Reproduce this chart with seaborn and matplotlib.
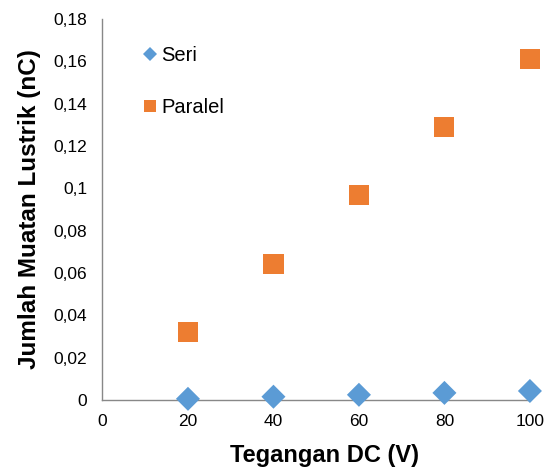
import numpy as np
import pandas as pd
import matplotlib.pyplot as plt
import seaborn as sns

# values
tegangan = [20, 40, 60, 80, 100]
seri = [0.0005, 0.0015, 0.0024, 0.0033, 0.0042]
paralel = [0.0321, 0.0643, 0.0968, 0.1290, 0.1612]
series_names = ['Seri', 'Paralel']
colors = ('#5B9BD5', '#ED7D31')
y_ticks = [0, 0.02, 0.04, 0.06, 0.08, 0.1, 0.12, 0.14, 0.16, 0.18]
y_tick_labels = ['0', '0,02', '0,04', '0,06', '0,08', '0,1', '0,12', '0,14', '0,16', '0,18']

df = pd.DataFrame({
    'tegangan': tegangan * 2,
    'muatan': seri + paralel,
    'rangkaian': ['Seri'] * len(seri) + ['Paralel'] * len(paralel),
})

sns.set_style('white')
plt.rcParams['font.family'] = ['Liberation Sans', 'DejaVu Sans']
plt.rcParams['text.color'] = 'black'
plt.rcParams['axes.labelcolor'] = 'black'

fig, ax = plt.subplots(figsize=(5.48, 4.71), dpi=100)
fig.subplots_adjust(left=0.187, right=0.967, top=0.960, bottom=0.151)

sns.scatterplot(data=df, x='tegangan', y='muatan', hue='rangkaian', style='rangkaian',
                size='rangkaian', sizes={'Seri': 150, 'Paralel': 210},
                hue_order=series_names, style_order=series_names, size_order=series_names,
                markers={'Seri': 'D', 'Paralel': 's'}, palette=colors,
                linewidth=0, ax=ax, clip_on=False, zorder=3)

ax.set_xlim(0, 100)
ax.set_ylim(0, 0.18)
ax.set_xticks(np.arange(0, 101, 20))
ax.set_yticks(y_ticks)
ax.set_yticklabels(y_tick_labels)
ax.tick_params(axis='both', labelsize=12.5, labelcolor='black', length=5, width=1,
               direction='out', color='#888888')
ax.tick_params(axis='x', pad=5)
ax.tick_params(axis='y', pad=6)

for side in ['top', 'right']:
    ax.spines[side].set_visible(False)
for side in ['left', 'bottom']:
    ax.spines[side].set_color('#888888')
    ax.spines[side].set_linewidth(1)

ax.set_xlabel('Tegangan DC (V)', fontsize=17, fontweight='bold', labelpad=12)
ax.xaxis.set_label_coords(0.519, -0.115)
ax.set_ylabel('Jumlah Muatan Lustrik (nC)', fontsize=17.5, fontweight='bold', labelpad=9)

handles, labels = ax.get_legend_handles_labels()
handle_map = dict(zip(labels, handles))
handles = [handle_map[n] for n in series_names]
handles[0].set_markersize(7)
handles[1].set_markersize(9)
leg = ax.legend(handles, series_names, loc='upper left', bbox_to_anchor=(0.045, 0.975),
                frameon=False, fontsize=14.5, handletextpad=0.05, labelspacing=1.6,
                handlelength=1.0)

fig.savefig('out.png', dpi=100)
